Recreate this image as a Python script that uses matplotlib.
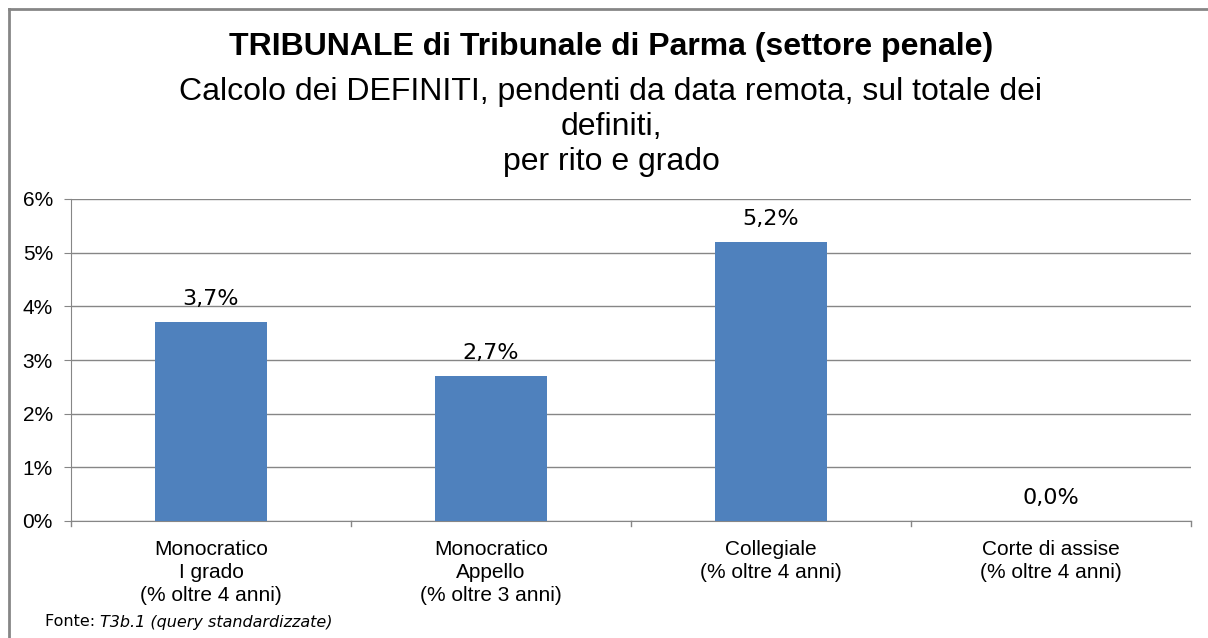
import matplotlib
matplotlib.use("Agg")
import matplotlib.pyplot as plt
from matplotlib.lines import Line2D

categories = ["Monocratico\nI grado\n(% oltre 4 anni)",
              "Monocratico\nAppello\n(% oltre 3 anni)",
              "Collegiale\n(% oltre 4 anni)",
              "Corte di assise\n(% oltre 4 anni)"]
values = [3.7, 2.7, 5.2, 0.0]
value_labels = ["3,7%", "2,7%", "5,2%", "0,0%"]
yticks = [0, 1, 2, 3, 4, 5, 6]
ytick_labels = ["0%", "1%", "2%", "3%", "4%", "5%", "6%"]

W, H = 1208, 638
fig = plt.figure(figsize=(W / 100, H / 100), dpi=100)
ax = fig.add_axes([71 / W, 1 - 521 / H, (1191 - 71) / W, (521 - 199) / H])

x = list(range(len(categories)))
ax.bar(x, values, width=0.4, color="#4F81BD", zorder=3)
ax.set_xlim(-0.5, len(categories) - 0.5)
ax.set_ylim(0, 6)
ax.set_yticks(yticks)
ax.set_yticklabels(ytick_labels, fontsize=15, family="Liberation Sans")
ax.set_xticks(x)
ax.set_xticklabels(categories, fontsize=15, family="Liberation Sans", linespacing=1.25)
ax.tick_params(axis="x", length=0, pad=14)
ax.tick_params(axis="y", length=5, color="#868686", pad=8)
ax.grid(axis="y", color="#868686", linewidth=1, zorder=0)
for s in ["top", "right"]:
    ax.spines[s].set_visible(False)
ax.spines["left"].set_color("#868686")
ax.spines["bottom"].set_color("#868686")
# boundary ticks on x axis
for b in [-0.5, 0.5, 1.5, 2.5, 3.5]:
    ax.plot([b, b], [0, -0.1], color="#868686", lw=1, clip_on=False, transform=ax.transData)

for xi, v, lab in zip(x, values, value_labels):
    ax.annotate(lab, (xi, v), xytext=(0, 9.5), textcoords="offset points",
                ha="center", va="bottom", fontsize=16, family="DejaVu Sans")

fig.text(611 / W, 1 - 47 / H, "TRIBUNALE di Tribunale di Parma (settore penale)",
         ha="center", va="center", fontsize=23, fontweight="bold", family="Liberation Sans")
fig.text(611 / W, 1 - 127 / H,
         "Calcolo dei DEFINITI, pendenti da data remota, sul totale dei\ndefiniti,\nper rito e grado",
         ha="center", va="center", fontsize=23, family="Liberation Sans", linespacing=1.2)

fig.text(45 / W, 1 - 622 / H, "Fonte: ", ha="left", va="center", fontsize=11.5, family="DejaVu Sans")
fig.text(100 / W, 1 - 622 / H, "T3b.1 (query standardizzate)", ha="left", va="center",
         fontsize=11.5, family="DejaVu Sans", style="italic")

fig.add_artist(Line2D([9 / W, 9 / W], [0, 1 - 9 / H], color="#868686", lw=2, transform=fig.transFigure))
fig.add_artist(Line2D([9 / W, 1], [1 - 9 / H, 1 - 9 / H], color="#868686", lw=2, transform=fig.transFigure))

fig.savefig("out.png", dpi=100)
